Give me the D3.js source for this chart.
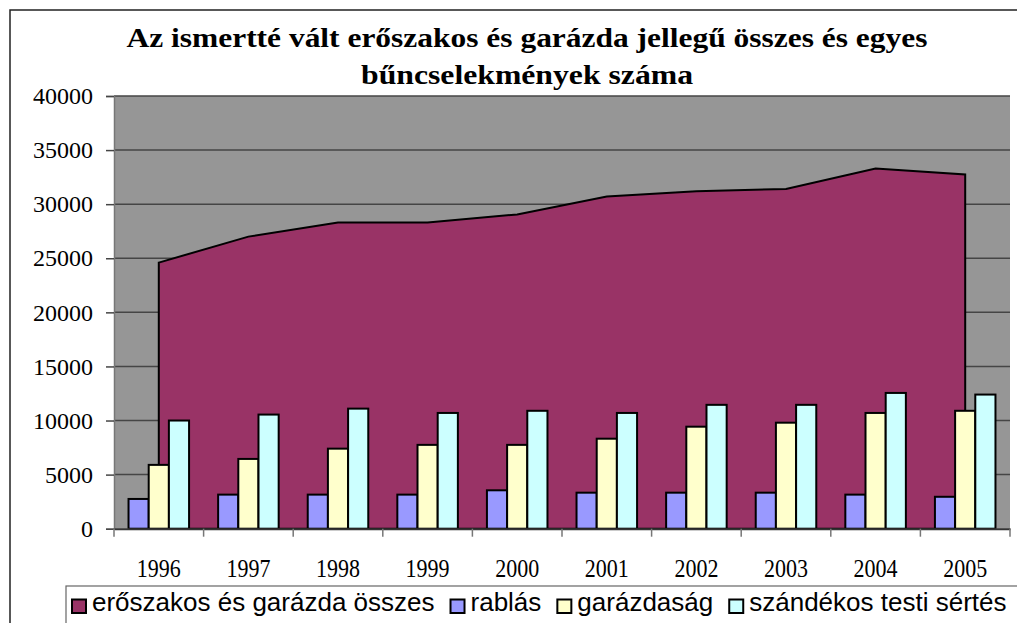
<!DOCTYPE html>
<html>
<head>
<meta charset="utf-8">
<script src="https://cdn.jsdelivr.net/npm/d3@7"></script>
<style>
  body { margin: 0; background: white; }
  svg { display: block; }
</style>
</head>
<body>
<div id="chart"></div>
<script>
// chart data
var years = ["1996", "1997", "1998", "1999", "2000", "2001", "2002", "2003", "2004", "2005"];
var osszes = [24600, 27000, 28300, 28300, 29050, 30700, 31200, 31400, 33300, 32750];
var rablas = [2750, 3150, 3150, 3150, 3550, 3330, 3330, 3330, 3150, 2950];
var garazdasag = [5900, 6450, 7400, 7750, 7750, 8320, 9430, 9800, 10700, 10900];
var szandekos = [10000, 10550, 11100, 10700, 10900, 10700, 11450, 11450, 12550, 12400];
var yTicks = [0, 5000, 10000, 15000, 20000, 25000, 30000, 35000, 40000];

var barSeries = [
  { name: "rablás", values: rablas, color: "#9999ff" },
  { name: "garázdaság", values: garazdasag, color: "#ffffcc" },
  { name: "szándékos testi sértés", values: szandekos, color: "#ccffff" }
];
var areaName = "erőszakos és garázda összes";
var areaColor = "#993366";

var W = 1017, H = 623;
var plot = { left: 114, right: 1010, top: 96, bottom: 528.7 };

var svg = d3.select("#chart").append("svg")
    .attr("width", W)
    .attr("height", H);

// outer chart border (runs off the right/bottom edge like in the picture)
svg.append("rect")
    .attr("x", 10).attr("y", 10)
    .attr("width", 1040).attr("height", 650)
    .attr("fill", "white")
    .attr("stroke", "#222")
    .attr("stroke-width", 1.5);

// title
var title = svg.append("g")
    .attr("font-family", "'Liberation Serif', 'Times New Roman', serif")
    .attr("font-weight", "bold")
    .attr("font-size", 27)
    .attr("fill", "black");
title.append("text")
    .attr("x", 527).attr("y", 47)
    .attr("text-anchor", "middle")
    .attr("textLength", 801)
    .attr("lengthAdjust", "spacingAndGlyphs")
    .text("Az ismertté vált erőszakos és garázda jellegű összes és egyes");
title.append("text")
    .attr("x", 527).attr("y", 84)
    .attr("text-anchor", "middle")
    .attr("textLength", 332)
    .attr("lengthAdjust", "spacingAndGlyphs")
    .text("bűncselekmények száma");

// scales
var x0 = d3.scaleBand()
    .domain(years)
    .range([plot.left, plot.right])
    .padding(0);
var x1 = d3.scaleBand()
    .domain(barSeries.map(function(s) { return s.name; }))
    .range([0, x0.bandwidth()])
    .paddingInner(0)
    .paddingOuter(0.72);
var y = d3.scaleLinear()
    .domain([0, 40000])
    .range([plot.bottom, plot.top]);

// plot background
svg.append("rect")
    .attr("x", plot.left).attr("y", plot.top)
    .attr("width", plot.right - plot.left)
    .attr("height", plot.bottom - plot.top)
    .attr("fill", "#969696");

// gridlines
svg.append("g")
    .selectAll("line")
    .data(yTicks.filter(function(t) { return t > 0; }))
    .enter().append("line")
    .attr("x1", plot.left).attr("x2", plot.right)
    .attr("y1", function(d) { return y(d); })
    .attr("y2", function(d) { return y(d); })
    .attr("stroke", "#454545")
    .attr("stroke-width", 1.5);

// total as area, on category centres
var area = d3.area()
    .x(function(d, i) { return x0(years[i]) + x0.bandwidth() / 2; })
    .y0(y(0))
    .y1(function(d) { return y(d); });
svg.append("path")
    .datum(osszes)
    .attr("d", area)
    .attr("fill", areaColor)
    .attr("stroke", "black")
    .attr("stroke-width", 2)
    .attr("stroke-linejoin", "miter");

// grouped columns
var groups = svg.append("g")
    .selectAll("g")
    .data(years)
    .enter().append("g")
    .attr("transform", function(d) { return "translate(" + x0(d) + ",0)"; });
groups.selectAll("rect")
    .data(function(d, i) {
      return barSeries.map(function(s) { return { key: s.name, value: s.values[i], color: s.color }; });
    })
    .enter().append("rect")
    .attr("x", function(d) { return x1(d.key); })
    .attr("width", x1.bandwidth())
    .attr("y", function(d) { return y(d.value); })
    .attr("height", function(d) { return y(0) - y(d.value); })
    .attr("fill", function(d) { return d.color; })
    .attr("stroke", "black")
    .attr("stroke-width", 2);

// y axis
var yAxis = svg.append("g")
    .attr("transform", "translate(" + plot.left + ",0)")
    .call(d3.axisLeft(y).tickValues(yTicks).tickSize(8).tickPadding(13).tickFormat(d3.format("d")));
yAxis.attr("font-family", "'Liberation Serif', 'Times New Roman', serif");
yAxis.select(".domain").attr("stroke", "#777").attr("stroke-width", 1.5);
yAxis.selectAll(".tick line").attr("stroke", "#454545").attr("stroke-width", 1.5);
yAxis.selectAll(".tick text")
    .attr("font-size", 24)
    .attr("fill", "black");

// x axis
var xAxis = svg.append("g")
    .attr("transform", "translate(0," + plot.bottom + ")")
    .call(d3.axisBottom(x0).tickSize(0).tickPadding(0));
xAxis.attr("font-family", "'Liberation Serif', 'Times New Roman', serif");
xAxis.select(".domain").attr("stroke", "#333").attr("stroke-width", 2);
xAxis.selectAll(".tick text")
    .attr("y", 48)
    .attr("dy", 0)
    .attr("font-size", 25)
    .attr("fill", "black")
    .attr("textLength", 44)
    .attr("lengthAdjust", "spacingAndGlyphs");
// category separators
xAxis.selectAll(".sep")
    .data(years.concat(["end"]))
    .enter().append("line")
    .attr("class", "sep")
    .attr("x1", function(d) { return d === "end" ? plot.right : x0(d); })
    .attr("x2", function(d) { return d === "end" ? plot.right : x0(d); })
    .attr("y1", 0).attr("y2", 8)
    .attr("stroke", "#777")
    .attr("stroke-width", 1.5);

// legend
var legendItems = [{ name: areaName, color: areaColor }].concat(barSeries);
svg.append("rect")
    .attr("x", 66).attr("y", 586)
    .attr("width", 1000).attr("height", 60)
    .attr("fill", "white")
    .attr("stroke", "#666")
    .attr("stroke-width", 1.2);
var lg = svg.append("g");
var lx = 72;
legendItems.forEach(function(it) {
  lg.append("rect")
      .attr("x", lx).attr("y", 599.5)
      .attr("width", 14).attr("height", 13.5)
      .attr("fill", it.color)
      .attr("stroke", "black")
      .attr("stroke-width", 2);
  var t = lg.append("text")
      .attr("x", lx + 20).attr("y", 611)
      .attr("font-family", "'Liberation Sans', Arial, sans-serif")
      .attr("font-size", 26)
      .attr("fill", "black")
      .text(it.name);
  lx = lx + 20 + t.node().getComputedTextLength() + 16;
});
</script>
</body>
</html>
